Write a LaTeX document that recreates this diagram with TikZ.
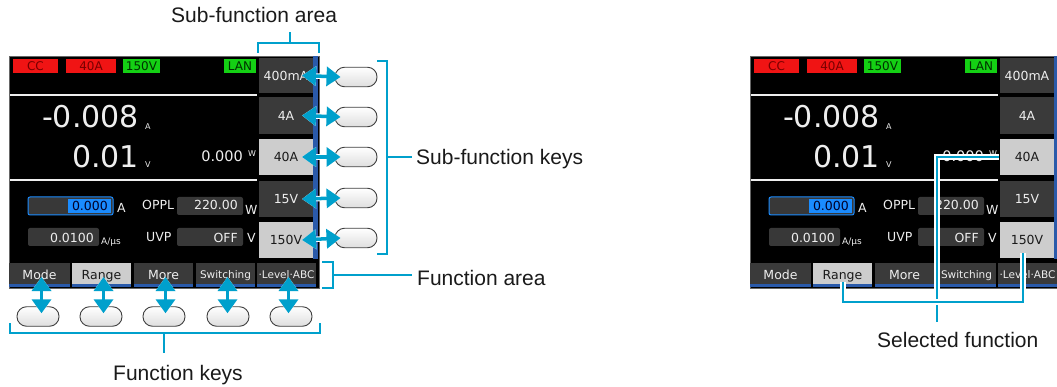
\documentclass[tikz,border=0pt]{standalone}
\usepackage{fontspec}
\setmainfont{Liberation Sans}
\newfontfamily\scr{DejaVu Sans}
\usetikzlibrary{arrows.meta,calc}
\definecolor{cy}{RGB}{0,160,204}
\definecolor{skdark}{HTML}{3A3A3A}
\definecolor{sklight}{HTML}{CDCDCD}
\definecolor{skblue}{HTML}{2A5AAA}
\definecolor{bxgray}{HTML}{383838}
\definecolor{hiblue}{HTML}{1A8CFF}
\definecolor{redbox}{HTML}{F01414}
\definecolor{redtxt}{HTML}{780000}
\definecolor{grnbox}{HTML}{14D014}
\definecolor{grntxt}{HTML}{003000}
\definecolor{scrtxt}{HTML}{EEEEEE}
\definecolor{lbl}{HTML}{1A1A1A}
\tikzset{
  fs/.style={font=\scr\fontsize{#1}{#1}\selectfont},
  stat/.style={inner sep=0pt, minimum height=14pt, fs=12},
  skey/.style={inner sep=0pt, minimum width=54pt, fs=12.5, text depth=0pt},
  skdk/.style={skey, fill=skdark, text=scrtxt},
  sklt/.style={skey, fill=sklight, text=lbl},
  fkey/.style={inner sep=0pt, minimum height=24pt, text depth=0pt},
  fkdk/.style={fkey, fill=skdark, text=scrtxt},
  fklt/.style={fkey, fill=sklight, text=lbl},
  inbox/.style={inner sep=0pt, minimum height=18pt, fill=bxgray, rounded corners=2pt},
  oval/.style={draw=black!75, line width=0.9pt, rounded corners=9.5pt, minimum width=42pt, minimum height=19.5pt, top color=white, bottom color=black!13, inner sep=0pt},
  dbl/.style={cy, line width=3.5pt, {Triangle[length=14pt,width=19pt]}-{Triangle[length=14pt,width=19pt]}},
  brk/.style={cy, line width=2pt},
  halo/.style={preaction={draw=white, line width=5.5pt}},
  lab/.style={font=\fontsize{21}{24}\selectfont, text=lbl, inner sep=0pt, anchor=base west},
}
\newcommand\ScreenBody{%
  \fill[black] (9,56) rectangle (319,288);
  \draw[black!60, line width=0.8pt] (9,56) rectangle (319,288);
  % status indicators
  \node[stat, fill=redbox, text=redtxt, minimum width=45pt] (cc) at (35.5,66) {CC};
  \node[stat, fill=redbox, text=redtxt, minimum width=50pt] (ilim) at (91,66) {40A};
  \node[stat, fill=grnbox, text=grntxt, minimum width=37pt] (vlim) at (141.5,66) {150V};
  \node[stat, fill=grnbox, text=grntxt, minimum width=32pt] (lan) at (240,66) {LAN};
  % separators
  \draw[scrtxt, line width=1.5pt] (10,95) -- (257,95);
  \draw[scrtxt, line width=1.5pt] (10,180) -- (257,180);
  % measured values
  \node[fs=30, text=scrtxt, anchor=base east, inner sep=0pt] (cur) at (139,128) {-0.008};
  \node[fs=8, text=scrtxt, anchor=base west, inner sep=0pt] (curu) at (145,130) {A};
  \node[fs=30, text=scrtxt, anchor=base east, inner sep=0pt] (vol) at (139,168) {0.01};
  \node[fs=8, text=scrtxt, anchor=base west, inner sep=0pt] (volu) at (145,168) {V};
  \node[fs=14.5, text=scrtxt, anchor=base east, inner sep=0pt] (pow) at (243,162) {0.000};
  \node[fs=8, text=scrtxt, anchor=base west, inner sep=0pt] (powu) at (248,157) {W};
  % settings
  \node[inbox, minimum width=85pt, draw=hiblue, line width=1pt] (setA) at (70.5,206) {};
  \fill[hiblue] (68,199) rectangle (110.5,213);
  \node[fs=12.5, text=black!85!blue, anchor=base east, inner sep=0pt] (setAt) at (108,211) {0.000};
  \node[fs=12.5, text=scrtxt, anchor=base west, inner sep=0pt] (setAu) at (117,213) {A};
  \node[fs=12.5, text=scrtxt, anchor=base west, inner sep=0pt] (oppl) at (142,210) {OPPL};
  \node[inbox, minimum width=66pt] (opplb) at (210,206) {};
  \node[fs=12.5, text=scrtxt, anchor=base east, inner sep=0pt] (opplt) at (238,210) {220.00};
  \node[fs=12.5, text=scrtxt, anchor=base west, inner sep=0pt] (opplu) at (245,215) {W};
  \node[inbox, minimum width=71pt] (slew) at (63.5,237) {};
  \node[fs=12.5, text=scrtxt, anchor=base east, inner sep=0pt] (slewt) at (94,243) {0.0100};
  \node[fs=9, text=scrtxt, anchor=base west, inner sep=0pt] (slewu) at (101,245) {A/µs};
  \node[fs=12.5, text=scrtxt, anchor=base west, inner sep=0pt] (uvp) at (146,242) {UVP};
  \node[inbox, minimum width=66pt] (uvpb) at (210,237) {};
  \node[fs=12.5, text=scrtxt, anchor=base east, inner sep=0pt] (uvpt) at (238,243) {OFF};
  \node[fs=12.5, text=scrtxt, anchor=base west, inner sep=0pt] (uvpu) at (247,243) {V};
  % sub-function keys on screen
  \fill[skblue] (312.5,56) rectangle (317.5,259);
  \node[skdk, minimum height=35pt] (sk1) at (286,75.5) {400mA};
  \node[skdk, minimum height=37pt] (sk2) at (286,115.5) {4A};
  \node[sklt, minimum height=36pt] (sk3) at (286,157) {40A};
  \node[skdk, minimum height=36pt] (sk4) at (286,199) {15V};
  \node[sklt, minimum height=36pt] (sk5) at (286,240) {150V};
  % function bar
  \node[fkdk, minimum width=61pt, fs=12.5] (f1) at (39.5,275) {Mode};
  \node[fklt, minimum width=59pt, fs=12.5] (f2) at (101.5,275) {Range};
  \node[fkdk, minimum width=59pt, fs=12.5] (f3) at (163.5,275) {More};
  \node[fkdk, minimum width=59pt, fs=10.5] (f4) at (225.5,275) {Switching};
  \node[fkdk, minimum width=59pt, fs=10.5] (f5) at (286.5,275) {·Level·ABC};
  \foreach \a/\b in {9/70,72/131,134/193,196/255,257/316}
    \fill[skblue] (\a,284.5) rectangle (\b,287.5);
}
\begin{document}
\begin{tikzpicture}[x=1pt,y=-1pt]
\clip (0,0) rectangle (1057,387);
\fill[white] (0,0) rectangle (1057,387);

% ---------- left screen ----------
\begin{scope}[name prefix=L-]
\ScreenBody
\end{scope}

% sub-function key ovals
\foreach \i/\y in {1/77,2/117,3/157,4/198,5/238}
  \node[oval] (sko\i) at (356,\y) {};
% function key ovals
\foreach \i/\x in {1/38,2/101,3/164,4/228,5/291}
  \node[oval] (fko\i) at (\x,316.5) {};

% double arrows
\foreach \i in {1,...,5}
  \draw[dbl, halo] ([xshift=16pt]L-sk\i.center) -- ([xshift=6pt]sko\i.west);
\foreach \i in {1,...,5}
  \draw[dbl, halo] ($(L-f\i.center)+(2,2)$) -- ($(L-f\i.center |- fko\i.north)+(2,7)$);

% sub-function area bracket
\coordinate (saL) at (258,53);
\coordinate (saR) at (319,53);
\coordinate (saM) at (290,43);
\draw[brk] (saL) -- (258,43) -- (319,43) -- (saR);
\draw[brk] (saM) -- (290,32);
\node[lab] (saT) at (171,23) {Sub-function area};

% sub-function keys bracket
\draw[brk] (377,61) -- (387,61) -- (387,254) -- (377,254);
\node[lab] (skT) at (416,165) {Sub-function keys};
\draw[brk] (387,157) -- (412,157);

% function area bracket
\draw[brk] (322,262) -- (333,262) -- (333,288) -- (322,288);
\node[lab] (faT) at (417,286) {Function area};
\draw[brk] (333,275) -- (412,275);

% function keys bracket
\draw[brk] (10,323) -- (10,333) -- (320,333) -- (320,323);
\draw[brk] (164,333) -- (164,353);
\node[lab] (fkT) at (113,380) {Function keys};

% ---------- right screen ----------
\begin{scope}[shift={(741,0)}, name prefix=R-]
\ScreenBody
\end{scope}

\node[lab] (selT) at (877,347) {Selected function};
\draw[brk, halo] ([xshift=-1pt]R-sk3.west) -- (937,157) -- (937,322);
\draw[brk, halo] (843,282) -- (843,302) -- (1023,302) -- (1023,253);
\end{tikzpicture}
\end{document}
